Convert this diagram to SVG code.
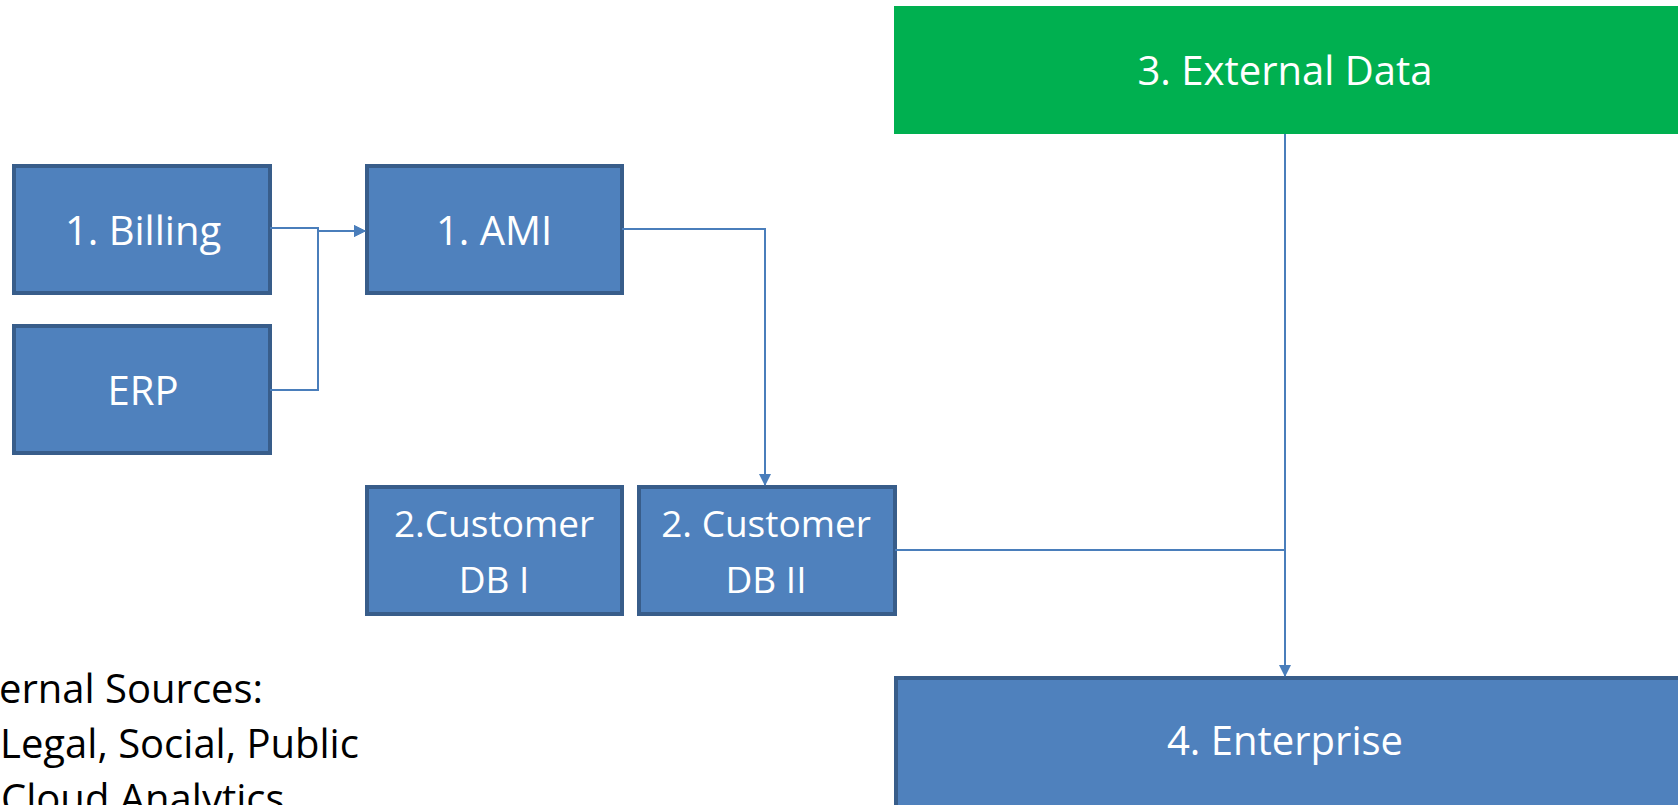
<svg xmlns="http://www.w3.org/2000/svg" width="1678" height="805" viewBox="0 0 1678 805">
<style>
.box{fill:#4F81BD;stroke:#385D8A;stroke-width:4}
.green{fill:#00B050}
.lbl{font-family:"Open Sans","Liberation Sans",sans-serif;font-size:40px;fill:#FFFFFF;text-anchor:middle}
.sm{font-size:37px}
.note{font-family:"Open Sans","Liberation Sans",sans-serif;font-size:40px;fill:#000000}
.conn{fill:none;stroke:#4A7EBB;stroke-width:2}
</style>
<defs>
<marker id="arr" markerWidth="12" markerHeight="12" refX="11" refY="6" orient="auto" markerUnits="userSpaceOnUse">
<path d="M0,0 L12,6 L0,12 Z" fill="#4A7EBB"/>
</marker>
</defs>
<rect width="1678" height="805" fill="#FFFFFF"/>
<g id="external">
<rect class="green" x="894" y="6" width="784" height="128"/>
<text class="lbl" x="1285" y="85">3. External Data</text>
</g>
<g id="billing">
<rect class="box" x="14" y="166" width="256" height="127"/>
<text class="lbl" x="143" y="245">1. Billing</text>
</g>
<g id="erp">
<rect class="box" x="14" y="326" width="256" height="127"/>
<text class="lbl" x="143" y="405">ERP</text>
</g>
<g id="ami">
<rect class="box" x="367" y="166" width="255" height="127"/>
<text class="lbl" x="494" y="245">1. AMI</text>
</g>
<g id="dbi">
<rect class="box" x="367" y="487" width="255" height="127"/>
<text class="lbl sm" x="494" y="537">2.Customer</text>
<text class="lbl sm" x="494" y="593">DB I</text>
</g>
<g id="dbii">
<rect class="box" x="639" y="487" width="256" height="127"/>
<text class="lbl sm" x="766" y="537">2. Customer</text>
<text class="lbl sm" x="766" y="593">DB II</text>
</g>
<g id="enterprise">
<rect class="box" x="896" y="678" width="784" height="130"/>
<text class="lbl" x="1285" y="755">4. Enterprise</text>
</g>
<g id="notes">
<text class="note" x="-1" y="703">ernal Sources:</text>
<text class="note" x="0" y="758">Legal, Social, Public</text>
<text class="note" x="1" y="813">Cloud Analytics</text>
</g>
<g id="connectors">
<path class="conn" d="M270,228 H318 V231 H365" marker-end="url(#arr)"/>
<path class="conn" d="M270,390 H318 V231 H365" marker-end="url(#arr)"/>
<path class="conn" d="M622,229 H765 V485" marker-end="url(#arr)"/>
<path class="conn" d="M1285,134 V676" marker-end="url(#arr)"/>
<path class="conn" d="M895,550 H1285"/>
</g>
</svg>
